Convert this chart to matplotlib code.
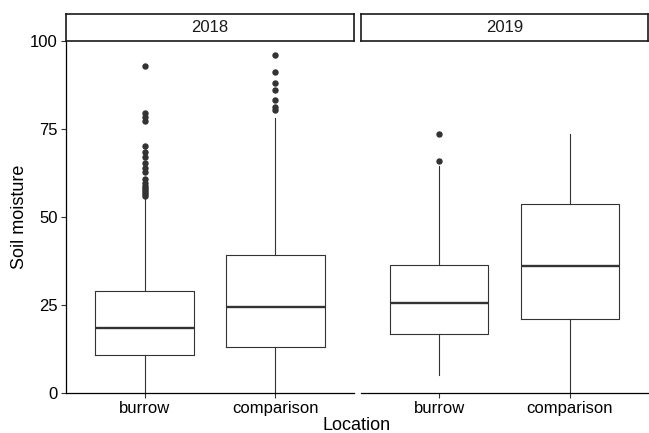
import matplotlib
matplotlib.use("Agg")
import matplotlib.pyplot as plt

plt.rcParams["font.family"] = ["Liberation Sans", "DejaVu Sans"]

# Box statistics (per year, per location)
years = ["2018", "2019"]
locations = ["burrow", "comparison"]

q1 = {"2018": [10.8, 13.0], "2019": [16.7, 21.0]}
median = {"2018": [18.6, 24.3], "2019": [25.5, 36.0]}
q3 = {"2018": [28.9, 39.1], "2019": [36.3, 53.8]}
whis_lo = {"2018": [0.0, 0.0], "2019": [5.1, 0.0]}
whis_hi = {"2018": [55.5, 78.2], "2019": [64.4, 73.6]}
outliers = {
    "2018": [
        [93.0, 79.6, 78.4, 77.3, 70.1, 68.6, 67.1, 65.2, 63.8, 62.7, 60.8, 59.6,
         58.9, 58.3, 57.7, 57.1, 56.5, 56.0],
        [96.1, 91.2, 88.1, 86.1, 83.2, 81.3, 80.5],
    ],
    "2019": [[73.5, 65.9], []],
}

W, H = 649, 433
fig = plt.figure(figsize=(W / 100, H / 100), dpi=100)

panels = {"2018": (66, 354), "2019": (361, 648)}
top, bottom = 41, 393
strip_top = 14
ink = "#333333"

for i, yr in enumerate(years):
    x0, x1 = panels[yr]
    ax = fig.add_axes([x0 / W, (H - bottom) / H, (x1 - x0) / W, (bottom - top) / H])
    stats = []
    for j, loc in enumerate(locations):
        stats.append(dict(med=median[yr][j], q1=q1[yr][j], q3=q3[yr][j],
                          whislo=whis_lo[yr][j], whishi=whis_hi[yr][j],
                          fliers=outliers[yr][j]))
    ax.bxp(stats, positions=[1, 2], widths=0.75, showcaps=False,
           boxprops=dict(color=ink, linewidth=0.8),
           whiskerprops=dict(color=ink, linewidth=0.8),
           medianprops=dict(color=ink, linewidth=1.7),
           flierprops=dict(marker="o", markerfacecolor=ink, markeredgecolor=ink,
                           markersize=3.6))
    ax.set_xlim(0.4, 2.6)
    ax.set_ylim(0, 100)
    ax.set_xticks([1, 2])
    ax.set_xticklabels(locations)
    ax.set_yticks([0, 25, 50, 75, 100])
    for s in ["top", "right"]:
        ax.spines[s].set_visible(False)
    ax.spines["bottom"].set_color("black")
    ax.spines["bottom"].set_linewidth(0.9)
    ax.tick_params(axis="both", length=3.5, width=0.8, colors="#333333",
                   labelcolor="black", labelsize=12, pad=2.5)
    if i == 0:
        ax.spines["left"].set_color("black")
        ax.spines["left"].set_linewidth(0.9)
    else:
        ax.spines["left"].set_visible(False)
        ax.tick_params(axis="y", left=False, labelleft=False)

    # facet strip
    sax = fig.add_axes([x0 / W, (H - top) / H, (x1 - x0) / W, (top - strip_top) / H])
    sax.set_xticks([])
    sax.set_yticks([])
    for s in sax.spines.values():
        s.set_linewidth(1.2)
        s.set_color("#1a1a1a")
    sax.text(0.5, 0.5, yr, ha="center", va="center", fontsize=12,
             transform=sax.transAxes, color="#1a1a1a")

fig.text(357 / W, 1 - 425 / H, "Location", ha="center", va="center", fontsize=13)
fig.text(20 / W, 1 - 217 / H, "Soil moisture", ha="center", va="center",
         rotation=90, fontsize=13)

fig.savefig("out.png", dpi=100)
